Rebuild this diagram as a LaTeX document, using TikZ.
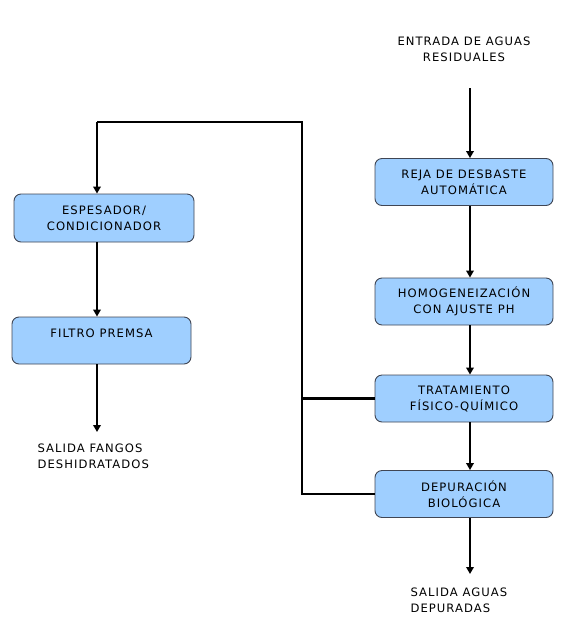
\documentclass[tikz,border=0pt]{standalone}
\usepackage{fontspec}
\setmainfont{DejaVu Sans}[LetterSpace=9]
\usetikzlibrary{arrows.meta}
\definecolor{azulcaja}{HTML}{9FCFFF}
\definecolor{bordecaja}{HTML}{404654}
\tikzset{
  caja/.style={draw=bordecaja,line width=0.9pt,fill=azulcaja,rounded corners=7pt,
    minimum width=178pt,minimum height=47pt,align=center,inner sep=0pt},
  flecha/.style={line width=2.8pt,-{Triangle[length=7pt,width=7.5pt]}},
  linea/.style={line width=2.8pt},
  rotulo/.style={font=\fontsize{11.6pt}{16pt}\selectfont}
}
\begin{document}
\begin{tikzpicture}[x=1pt,y=-1pt,every node/.style={rotulo}]
  \useasboundingbox (0,0) rectangle (578,638);
  \coordinate (in) at (470,88);
  \coordinate (out) at (470,574);
  \coordinate (top) at (302,122);
  \coordinate (topl) at (97,122);
  \coordinate (fout) at (97,432);

  % entrada y salidas
  \node[align=center] (entrada) at (464,49) {ENTRADA DE AGUAS\\RESIDUALES};
  \node[align=left,anchor=north west] (fangos) at (34,440) {SALIDA FANGOS\\DESHIDRATADOS};
  \node[align=left,anchor=north west] (aguas) at (407,584) {SALIDA AGUAS\\DEPURADAS};

  %cajas de la linea de agua
  \node[caja] (reja) at (464,182) {REJA DE DESBASTE\\AUTOMÁTICA};
  \node[caja] (homog) at (464,301.5) {HOMOGENEIZACIÓN\\CON AJUSTE PH};
  \node[caja] (trat) at (464,398.5) {TRATAMIENTO\\FÍSICO-QUÍMICO};
  \node[caja] (dep) at (464,494) {DEPURACIÓN\\BIOLÓGICA};
  %cajas de la linea de fangos
  \node[caja,minimum width=180pt,minimum height=48pt] (esp) at (104,218) {ESPESADOR/\\CONDICIONADOR};
  \node[caja,minimum width=179pt,text depth=14pt] (filtro) at (101.5,340.5) {FILTRO PREMSA};

  \draw[flecha] (in) -- ([xshift=6pt]reja.north);
  \draw[flecha] ([xshift=6pt]reja.south) -- ([xshift=6pt]homog.north);
  \draw[flecha] ([xshift=6pt]homog.south) -- ([xshift=6pt]trat.north);
  \draw[flecha] ([xshift=6pt]trat.south) -- ([xshift=6pt]dep.north);
  \draw[flecha] ([xshift=6pt]dep.south) -- (out);

  % retorno de fangos
  \draw[linea] (trat.west) -- (trat.west -| top);
  \draw[linea] (dep.west) -- (dep.west -| top) -- (top) -- (topl);
  \draw[flecha] (topl) -- (topl |- esp.north);
  \draw[flecha] (esp.south -| topl) -- (filtro.north -| topl);
  \draw[flecha] (filtro.south -| topl) -- (fout);
\end{tikzpicture}
\end{document}
